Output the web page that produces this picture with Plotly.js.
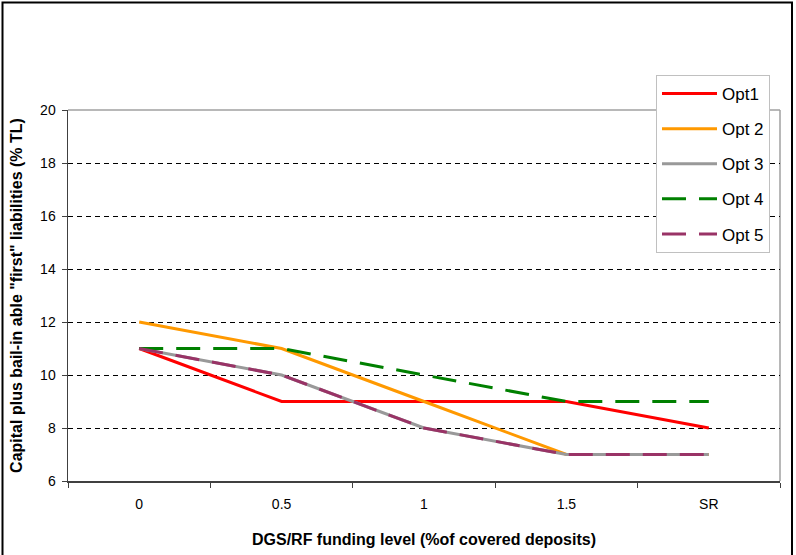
<!DOCTYPE html>
<html>
<head>
<meta charset="utf-8">
<script src="https://cdn.plot.ly/plotly-3.0.1.min.js"></script>
<style>
html,body{margin:0;padding:0;background:#fff;}
#chart{width:796px;height:555px;}
</style>
</head>
<body>
<div id="chart"></div>
<script>
var categories = ["0", "0.5", "1", "1.5", "SR"];
var opt1 = [11, 9, 9, 9, 8];
var opt2 = [12, 11, 9, 7, 7];
var opt3 = [11, 10, 8, 7, 7];
var opt4 = [11, 11, 10, 9, 9];
var opt5 = [11, 10, 8, 7, 7];
var seriesNames = ["Opt1", "Opt 2", "Opt 3", "Opt 4", "Opt 5"];
var yTicks = [6, 8, 10, 12, 14, 16, 18, 20];

var seriesData = [opt1, opt2, opt3, opt4, opt5];
var colors = ["#FF0000", "#FF9900", "#999999", "#008000", "#993366"];
var dashes = ["solid", "solid", "solid", "24px,13px", "24px,13px"];

var traces = seriesData.map(function (vals, i) {
  return {
    x: categories,
    y: vals,
    type: "scatter",
    mode: "lines",
    name: seriesNames[i],
    legendgroup: "g" + i,
    line: {color: colors[i], width: 3, dash: dashes[i]},
    hoverinfo: "x+y+name"
  };
});

var L = 68, R = 780, T = 110, B = 481, W = 796, H = 555;
function px(xp) { return (xp - L) / (R - L); }
function py(yp) { return (B - yp) / (B - T); }

var layout = {
  width: W,
  height: H,
  margin: {l: L, r: W - R, t: T, b: H - B, pad: 0},
  paper_bgcolor: "#ffffff",
  plot_bgcolor: "#ffffff",
  font: {family: "Arial, 'Liberation Sans', sans-serif", size: 14, color: "#000"},
  showlegend: true,
  legend: {
    x: px(656), y: py(75), xanchor: "left", yanchor: "top",
    bgcolor: "#ffffff", bordercolor: "#c0c0c0", borderwidth: 1,
    font: {size: 17, color: "#000"},
    traceorder: "grouped", tracegroupgap: 10, itemwidth: 55
  },
  xaxis: {
    type: "category",
    categoryorder: "array",
    categoryarray: categories,
    range: [-0.5, 4.5],
    showgrid: false,
    zeroline: false,
    showline: true,
    linecolor: "#404040",
    linewidth: 1.5,
    ticks: "outside",
    tickson: "boundaries",
    ticklen: 5,
    tickcolor: "#404040",
    ticklabelstandoff: 10,
    tickfont: {size: 14, color: "#000"},
    title: {text: "DGS/RF funding level (%of covered deposits)", font: {size: 16, color: "#000", weight: "bold"}, standoff: 22},
    fixedrange: true
  },
  yaxis: {
    range: [6, 20],
    tickvals: yTicks,
    ticktext: yTicks.map(String),
    showgrid: true,
    gridcolor: "#000000",
    gridwidth: 1,
    griddash: "5px,4px",
    zeroline: false,
    showline: true,
    linecolor: "#404040",
    linewidth: 1.5,
    ticks: "outside",
    ticklen: 5,
    tickcolor: "#404040",
    ticklabelstandoff: 3,
    tickfont: {size: 14, color: "#000"},
    title: {text: "Capital plus bail-in able \"first\" liabilities (% TL)", font: {size: 16, color: "#000", weight: "bold"}, standoff: 13},
    fixedrange: true
  },
  shapes: [
    {type: "line", xref: "paper", yref: "paper", x0: 0, x1: 1, y0: 1, y1: 1, line: {color: "#a0a0a0", width: 1.5}, layer: "below"},
    {type: "line", xref: "paper", yref: "paper", x0: 1, x1: 1, y0: 0, y1: 1, line: {color: "#a0a0a0", width: 1.5}, layer: "below"},
    {type: "rect", xref: "paper", yref: "paper", x0: px(2.5), x1: px(792), y0: py(2.5), y1: py(570), line: {color: "#000", width: 2}, fillcolor: "rgba(0,0,0,0)", layer: "above"}
  ]
};

Plotly.newPlot("chart", traces, layout, {displayModeBar: false, staticPlot: true});
</script>
</body>
</html>
